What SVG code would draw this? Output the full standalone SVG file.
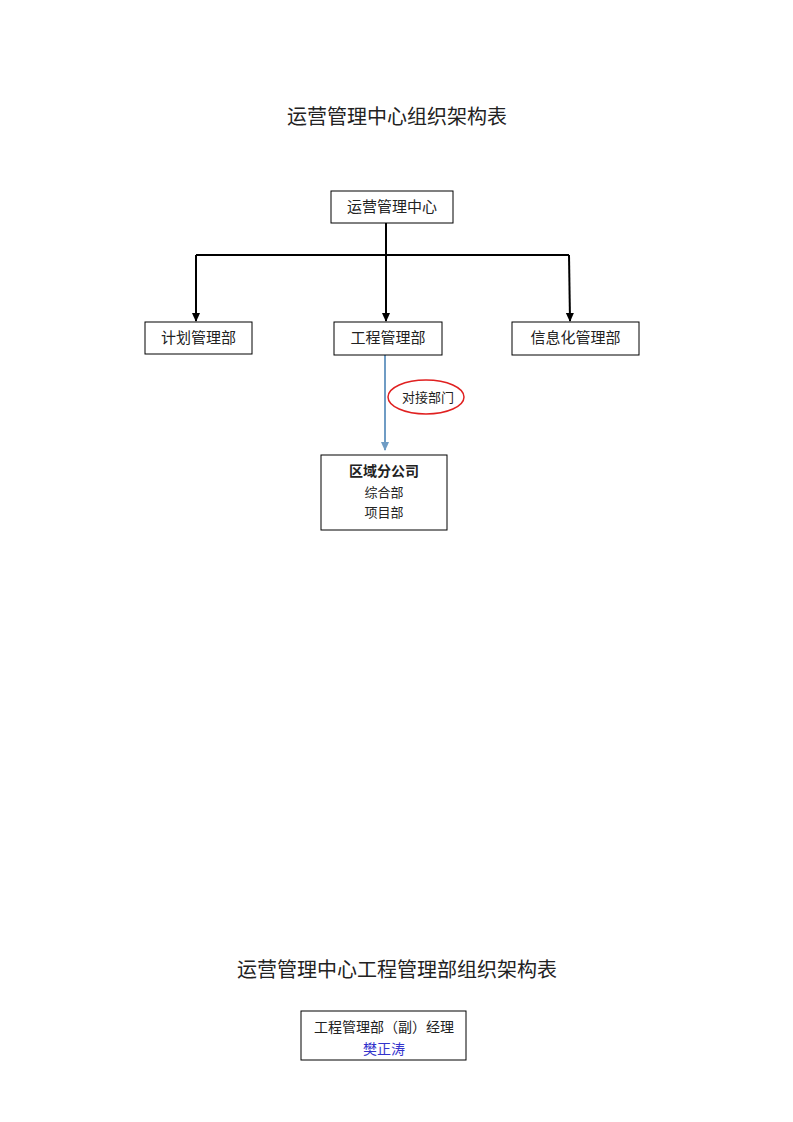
<svg xmlns="http://www.w3.org/2000/svg" width="793" height="1122" viewBox="0 0 793 1122">
<defs>
<style>
text{font-family:"Liberation Serif","Noto Sans CJK SC",serif;fill:#222;text-anchor:middle}
.t{font-size:20px}
.n{font-size:15px}
.s{font-size:13px}
.box{fill:#fff;stroke:#000;stroke-width:1}
.c{fill:none;stroke:#000;stroke-width:2}
</style>
<marker id="ab" markerWidth="10" markerHeight="10" refX="8" refY="5" orient="auto" markerUnits="userSpaceOnUse" viewBox="0 0 10 10"><path d="M0,1 L9,5 L0,9 Z" fill="#6f9cc4"/></marker>
<marker id="ak" markerWidth="10" markerHeight="10" refX="8" refY="5" orient="auto" markerUnits="userSpaceOnUse" viewBox="0 0 10 10"><path d="M0,1 L9,5 L0,9 Z" fill="#000"/></marker>
</defs>
<rect width="793" height="1122" fill="#fff"/>
<text class="t" x="397" y="124">运营管理中心组织架构表</text>
<g id="connectors">
<path class="c" d="M386,223 V255 M196,255 H569"/>
<path class="c" d="M196,255 V321" marker-end="url(#ak)"/>
<path class="c" d="M386,255 V321" marker-end="url(#ak)"/>
<path class="c" d="M569,255 L570,321" marker-end="url(#ak)"/>
<path d="M385,355 V450" fill="none" stroke="#6f9cc4" stroke-width="2" marker-end="url(#ab)"/>
</g>
<g id="n-center"><rect class="box" x="331" y="191" width="122" height="32"/><text class="n" x="392" y="212">运营管理中心</text></g>
<g id="n-plan"><rect class="box" x="145" y="322" width="107" height="32"/><text class="n" x="198.5" y="343">计划管理部</text></g>
<g id="n-eng"><rect class="box" x="334" y="322" width="108" height="33"/><text class="n" x="388" y="343">工程管理部</text></g>
<g id="n-info"><rect class="box" x="512" y="322" width="127" height="33"/><text class="n" x="575.5" y="343">信息化管理部</text></g>
<g id="n-label"><ellipse cx="426" cy="397" rx="38" ry="17" fill="#fff" stroke="#e02020" stroke-width="1.5"/><text class="s" x="428" y="402">对接部门</text></g>
<g id="n-region"><rect class="box" x="321" y="455" width="126" height="75"/>
<text class="s" x="384" y="476" font-weight="bold" style="font-size:14px">区域分公司</text>
<text class="s" x="384" y="497">综合部</text>
<text class="s" x="384" y="517">项目部</text></g>
<text class="t" x="397" y="977">运营管理中心工程管理部组织架构表</text>
<g id="n-manager"><rect class="box" x="301" y="1011" width="165" height="49"/>
<text class="s" x="384" y="1032" style="font-size:14px">工程管理部（副）经理</text>
<text class="s" x="384" y="1054" style="fill:#3333cc;font-size:14px">樊正涛</text></g>
</svg>
